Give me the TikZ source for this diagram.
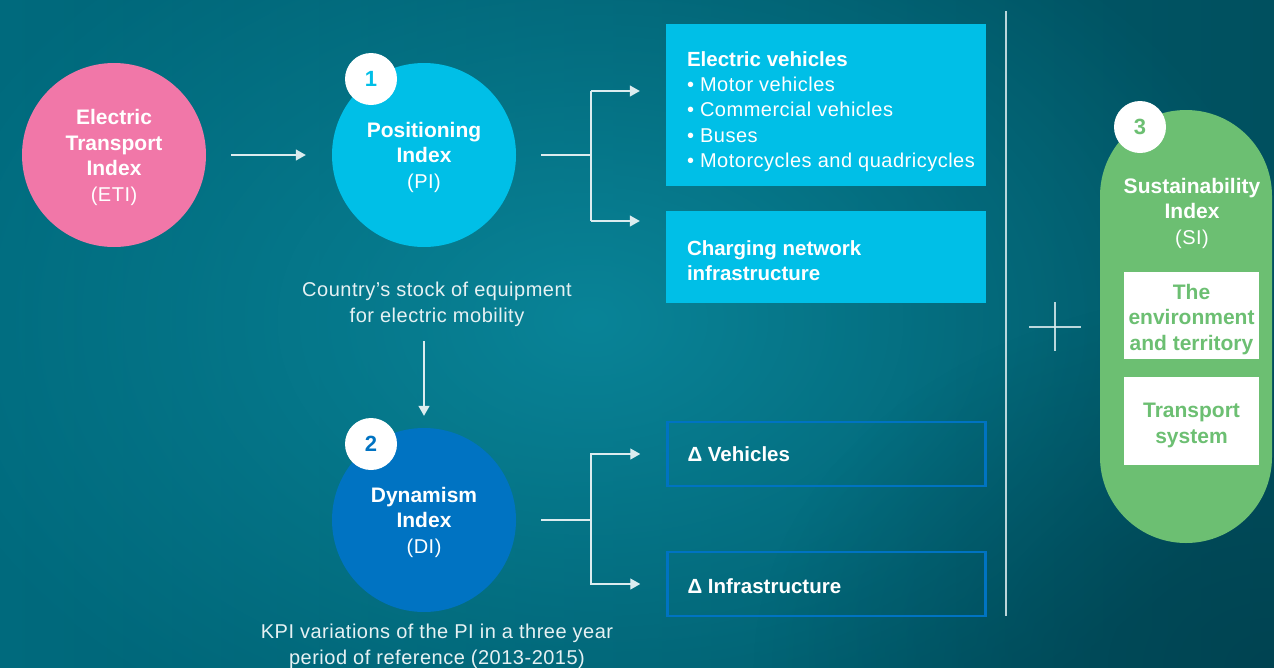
\documentclass[tikz,border=0pt]{standalone}
\usepackage{fontspec}
\setmainfont{Liberation Sans}
\newfontfamily\litefont[LetterSpace=2.5]{Liberation Sans}
\usetikzlibrary{arrows.meta,fadings}

\definecolor{bgL}{HTML}{006A7D}
\definecolor{bgR}{HTML}{00505F}
\definecolor{bgGlow}{HTML}{0A889C}
\definecolor{bgDark}{HTML}{003E4C}
\definecolor{etiPink}{HTML}{F177A8}
\definecolor{piCyan}{HTML}{00BFE7}
\definecolor{diBlue}{HTML}{0073C2}
\definecolor{siGreen}{HTML}{6CBF72}
\definecolor{wire}{HTML}{DCECEF}
\definecolor{captxt}{HTML}{E6F1F3}

\tikzfading[name=soft glow, inner color=transparent!0, outer color=transparent!100]

\newcommand\lite[1]{{\litefont\mdseries\fontsize{20}{25.4}\selectfont #1}}
% a taller first line pushes a text block a little downwards
\newcommand\lowered{\rule{0pt}{22pt}}

\begin{document}
\begin{tikzpicture}[x=1pt,y=-1pt,
  idxcirc/.style={circle, minimum size=184pt, inner sep=0pt, text=white, align=center,
    font=\fontsize{21}{25.5}\selectfont\bfseries},
  badge/.style={circle, fill=white, minimum size=52pt, inner sep=0pt,
    font=\fontsize{22}{22}\selectfont\bfseries},
  fillbox/.style={fill=piCyan, minimum width=320pt, text width=320pt, inner xsep=0pt,
    inner ysep=0pt, align=flush left, text=white, font=\fontsize{20.5}{25.4}\selectfont\bfseries},
  linebox/.style={draw=diBlue, line width=2.5pt, minimum width=318pt, minimum height=64pt,
    text width=278pt, inner xsep=20pt, inner ysep=0pt, align=flush left, text=white,
    font=\fontsize{20.5}{25.4}\selectfont\bfseries},
  whitebox/.style={fill=white, minimum width=135pt, inner sep=0pt, align=center, text=siGreen,
    font=\fontsize{21}{25.5}\selectfont\bfseries},
  caption/.style={align=center, text=captxt, inner sep=0pt,
    font=\litefont\fontsize{20}{26}\selectfont},
  wline/.style={draw=wire, line width=1.3pt},
  arr/.style={wline, -{Triangle[length=10pt,width=11pt]}},
  thin/.style={draw=wire, line width=1.1pt, opacity=0.85}
]
\useasboundingbox (0,0) rectangle (1274,667);

% background: dark teal with a soft glow left of centre
\shade[left color=bgL, right color=bgR] (0,0) rectangle (1274,667);
\fill[bgGlow, path fading=soft glow, fill opacity=0.9] (590,320) ellipse (700 and 480);
\fill[bgDark, path fading=soft glow, fill opacity=0.7] (1274,667) ellipse (520 and 380);

% index circles
\node[idxcirc, fill=etiPink] (eti) at (114,155) {\rule{0pt}{20pt}Electric\\Transport\\Index\\\lite{(ETI)}};
\node[idxcirc, fill=piCyan] (pi) at (424,155) {\rule{0pt}{20pt}Positioning\\Index\\\lite{(PI)}};
\node[idxcirc, fill=diBlue] (di) at (424,520) {\rule{0pt}{20pt}Dynamism\\Index\\\lite{(DI)}};
\node[badge, text=piCyan] (b1) at (371,79) {1};
\node[badge, text=diBlue] (b2) at (371,444) {2};

% captions under the circles
\node[caption] (cap1) at (437,304) {Country’s stock of equipment\\for electric mobility};
\node[caption] (cap2) at (437,646) {KPI variations of the PI in a three year\\period of reference (2013-2015)};

% component boxes
\node[fillbox, minimum height=162pt] (ev) at (826,105)
  {\hspace*{21pt}\rule{0pt}{28pt}Electric vehicles\\\hspace*{21pt}\lite{• Motor vehicles}\\\hspace*{21pt}\lite{• Commercial vehicles}\\\hspace*{21pt}\lite{• Buses}\\\hspace*{21pt}\lite{• Motorcycles and quadricycles}};
\node[fillbox, minimum height=92pt] (cn) at (826,257) {\hspace*{21pt}\lowered Charging network\\\hspace*{21pt}infrastructure};
\node[linebox] (dv) at (826.5,454) {Δ Vehicles};
\node[linebox] (dinf) at (826.5,584) {\rule{0pt}{20pt}Δ Infrastructure};

% connectors
\coordinate (pj) at (591,155);
\coordinate (pa) at (591,91);
\coordinate (pb) at (591,221);
\coordinate (dj) at (591,520);
\coordinate (dA) at (424,341);

\draw[arr, shorten <=25pt, shorten >=26pt] (eti) -- (pi);
\draw[wline, shorten <=25pt] (pi) -- (pj);
\draw[wline] (pa) -- (pb);
\draw[arr, shorten >=26pt] (pa) -- (pa -| ev.west);
\draw[arr, shorten >=26pt] (pb) -- (pb -| cn.west);
\draw[arr, shorten >=12pt] (dA) -- (di.north);
\draw[wline, shorten <=25pt] (di) -- (dj);
\draw[arr, shorten >=26pt] (dj) |- (dv.west);
\draw[arr, shorten >=26pt] (dj) |- (dinf.west);

% separator and plus sign
\coordinate (sepT) at (1006,11);
\coordinate (sepB) at (1006,616);
\draw[thin] (sepT) -- (sepB);
\coordinate (plusL) at (1029,327);
\coordinate (plusR) at (1081,327);
\coordinate (plusT) at (1055,302);
\coordinate (plusB) at (1055,351);
\draw[thin] (plusL) -- (plusR);
\draw[thin] (plusT) -- (plusB);

% sustainability index
\node[fill=siGreen, minimum width=172pt, minimum height=433pt, rounded corners=86pt, inner sep=0pt] (si) at (1186,326.5) {};
\node[align=center, text=white, inner sep=0pt, font=\fontsize{21}{25.5}\selectfont\bfseries] (sit) at (1192,213) {Sustainability\\Index\\\lite{(SI)}};
\node[badge, text=siGreen] (b3) at (1140,127) {3};
\node[whitebox, minimum height=87pt] (env) at (1191.5,315.5) {\rule{0pt}{23pt}The\\environment\\and territory};
\node[whitebox, minimum height=88pt] (tsys) at (1191.5,421) {\rule{0pt}{23pt}Transport\\system};
\end{tikzpicture}
\end{document}
